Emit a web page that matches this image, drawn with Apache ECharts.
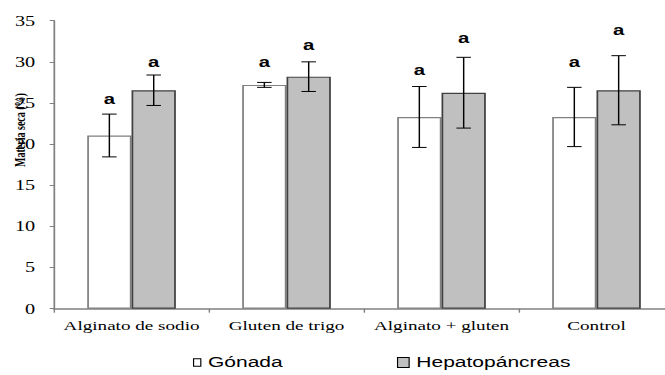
<!DOCTYPE html>
<html><head><meta charset="utf-8">
<script src="https://cdn.jsdelivr.net/npm/echarts@6/dist/echarts.min.js"></script>
<style>
html,body{margin:0;padding:0;background:#fff;overflow:hidden;width:665px;height:375px;}
#chart{width:459px;height:375px;transform:scaleX(1.4488);transform-origin:0 0;}
</style></head><body><div id="chart"></div>
<script>
// ---- data ----
const categories = ['Alginato de sodio', 'Gluten de trigo', 'Alginato + gluten', 'Control'];
const seriesNames = ['Gónada', 'Hepatopáncreas'];
const gonadaMean = [21.05, 27.2, 23.3, 23.3];
const gonadaErr = [2.6, 0.3, 3.7, 3.6];
const hepatoMean = [26.55, 28.2, 26.25, 26.55];
const hepatoErr = [1.85, 1.8, 4.3, 4.2];
const gonadaLetters = ['a', 'a', 'a', 'a'];
const hepatoLetters = ['a', 'a', 'a', 'a'];
const gonadaLetterY = [25.5, 30.0, 29.0, 30.0];
const hepatoLetterY = [30.0, 32.0, 32.9, 33.9];
const yMin = 0, yMax = 35, yStep = 5;
const yTitle = 'Materia seca (%)';

// ---- styles ----
const BAR_W = 30.6;
const CAP = 5;
const serif = '"Liberation Serif", "Times New Roman", serif';
const sans = '"Liberation Sans", Arial, sans-serif';

function errRender(letters, side) {
  return function (params, api) {
    const i = api.value(0);
    const m = api.value(1), e = api.value(2), ly = api.value(3);
    const x = api.coord([i, m])[0] + side * BAR_W / 2;
    const yt = api.coord([i, m + e])[1];
    const yb = api.coord([i, m - e])[1];
    const yl = api.coord([i, ly])[1];
    const ls = { stroke: '#000', lineWidth: 1 };
    return {
      type: 'group',
      children: [
        { type: 'line', shape: { x1: x, y1: yt, x2: x, y2: yb }, style: ls },
        { type: 'line', shape: { x1: x - CAP, y1: yt, x2: x + CAP, y2: yt }, style: ls },
        { type: 'line', shape: { x1: x - CAP, y1: yb, x2: x + CAP, y2: yb }, style: ls },
        { type: 'text', x: x, y: yl, style: { text: letters[i], fill: '#000', fontFamily: sans, fontWeight: 'bold', fontSize: 14, align: 'center', verticalAlign: 'middle', textAlign: 'center', textVerticalAlign: 'middle' } }
      ]
    };
  };
}

const chart = echarts.init(document.getElementById('chart'), null, { renderer: 'svg' });
chart.setOption({
  animation: false,
  backgroundColor: '#fff',
  grid: { left: 37.3, top: 20.7, width: 427.9, height: 288, containLabel: false, outerBoundsMode: 'none' },
  legend: [
    { data: [seriesNames[0]], left: 133.2, top: 355, padding: 0, icon: 'rect', itemWidth: 5, itemHeight: 7.5,
      itemStyle: { borderColor: '#000', borderWidth: 0.8 },
      textStyle: { fontFamily: sans, fontSize: 14.5, color: '#000' } },
    { data: [seriesNames[1]], left: 274, top: 355, padding: 0, icon: 'rect', itemWidth: 8, itemHeight: 10,
      itemStyle: { borderColor: '#000', borderWidth: 0.8 },
      textStyle: { fontFamily: sans, fontSize: 14.5, color: '#000' } }
  ],
  xAxis: {
    type: 'category', data: categories,
    axisLine: { lineStyle: { color: '#808080', width: 1.5 } },
    axisTick: { show: true, length: 4, lineStyle: { color: '#808080' } },
    axisLabel: { interval: 0, fontFamily: serif, fontSize: 13.2, color: '#000', margin: 10 }
  },
  yAxis: {
    type: 'value', min: yMin, max: yMax, interval: yStep,
    axisLine: { show: true, lineStyle: { color: '#808080', width: 1.2 } },
    axisTick: { show: true, length: 3, lineStyle: { color: '#808080' } },
    splitLine: { show: false },
    axisLabel: { fontFamily: serif, fontSize: 14, color: '#000', margin: 13 }
  },
  graphic: [{
    type: 'text', x: 13.8, y: 130, rotation: Math.PI / 2,
    style: { text: yTitle, fill: '#000', fontFamily: serif, fontWeight: 'bold', fontSize: 10,
      align: 'center', verticalAlign: 'middle', textAlign: 'center', textVerticalAlign: 'middle' }
  }],
  series: [
    { name: seriesNames[0], type: 'bar', data: gonadaMean, barWidth: BAR_W, barGap: '0%',
      itemStyle: { color: '#ffffff', borderColor: '#808080', borderWidth: 1.2 } },
    { name: seriesNames[1], type: 'bar', data: hepatoMean, barWidth: BAR_W, barGap: '0%',
      itemStyle: { color: '#c0c0c0', borderColor: '#404040', borderWidth: 1.2 } },
    { type: 'custom', z: 10, renderItem: errRender(gonadaLetters, -1),
      data: categories.map((c, i) => [i, gonadaMean[i], gonadaErr[i], gonadaLetterY[i]]) },
    { type: 'custom', z: 10, renderItem: errRender(hepatoLetters, 1),
      data: categories.map((c, i) => [i, hepatoMean[i], hepatoErr[i], hepatoLetterY[i]]) }
  ]
});
</script></body></html>
